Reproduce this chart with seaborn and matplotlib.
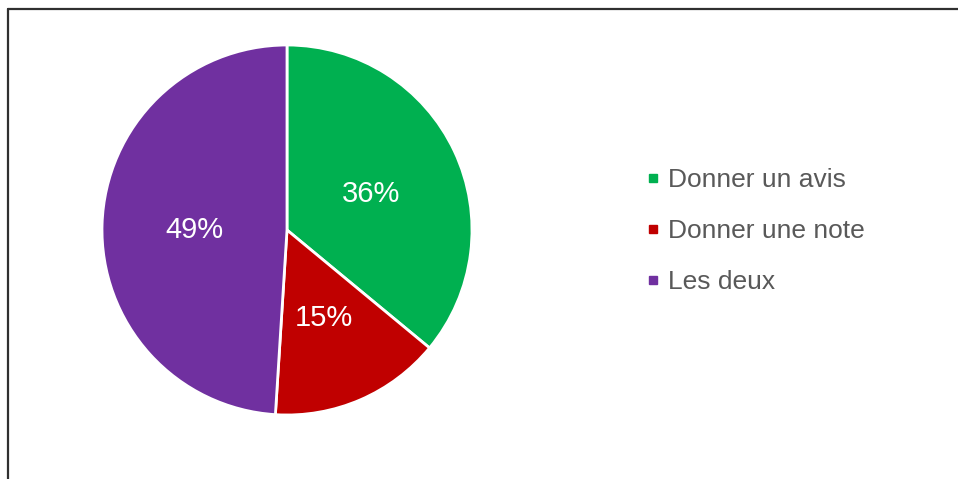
import matplotlib
matplotlib.use("Agg")
import matplotlib.pyplot as plt
from matplotlib.lines import Line2D
import seaborn as sns

categories = ["Donner un avis", "Donner une note", "Les deux"]
shares = [36, 15, 49]
colors = ["#00B050", "#C00000", "#7030A0"]

sns.set_theme(style="white")
plt.rcParams["font.family"] = ["Liberation Sans", "DejaVu Sans"]

fig = plt.figure(figsize=(9.58, 4.79), dpi=100)
W, H = 958, 479

# pie area: centre (287, 230) px, radius 185 px
cx, cy, r = 287, 230, 185
ax = fig.add_axes([(cx - r) / W, (H - cy - r) / H, 2 * r / W, 2 * r / H])

wedges, texts, autotexts = ax.pie(
    shares,
    colors=colors,
    startangle=90,
    counterclock=False,
    autopct=lambda p: f"{p:.0f}%",
    pctdistance=0.5,
    wedgeprops=dict(edgecolor="white", linewidth=2),
    textprops=dict(color="white", fontsize=21),
)
for t in autotexts:
    t.set_va("center_baseline")
ax.set_xlim(-1, 1)
ax.set_ylim(-1, 1)
ax.set_aspect("equal")
ax.axis("off")

handles = [
    Line2D([0], [0], marker="s", linestyle="", markersize=5.5,
           markerfacecolor=c, markeredgecolor=c)
    for c in colors
]
leg = fig.legend(
    handles, categories,
    loc="center left",
    bbox_to_anchor=(646 / W, 1 - 231 / H),
    frameon=False,
    fontsize=19,
    labelcolor="#595959",
    handlelength=0.5,
    handletextpad=0.35,
    labelspacing=1.02,
    borderaxespad=0,
    borderpad=0,
)

# chart frame: top and left edges
fig.add_artist(Line2D([8 / W, 1.0], [1 - 9 / H, 1 - 9 / H], color="#303030",
                      linewidth=1.6, transform=fig.transFigure))
fig.add_artist(Line2D([8 / W, 8 / W], [1 - 9 / H, 0.0], color="#303030",
                      linewidth=1.6, transform=fig.transFigure))

fig.savefig("out.png", dpi=100, facecolor="white")
